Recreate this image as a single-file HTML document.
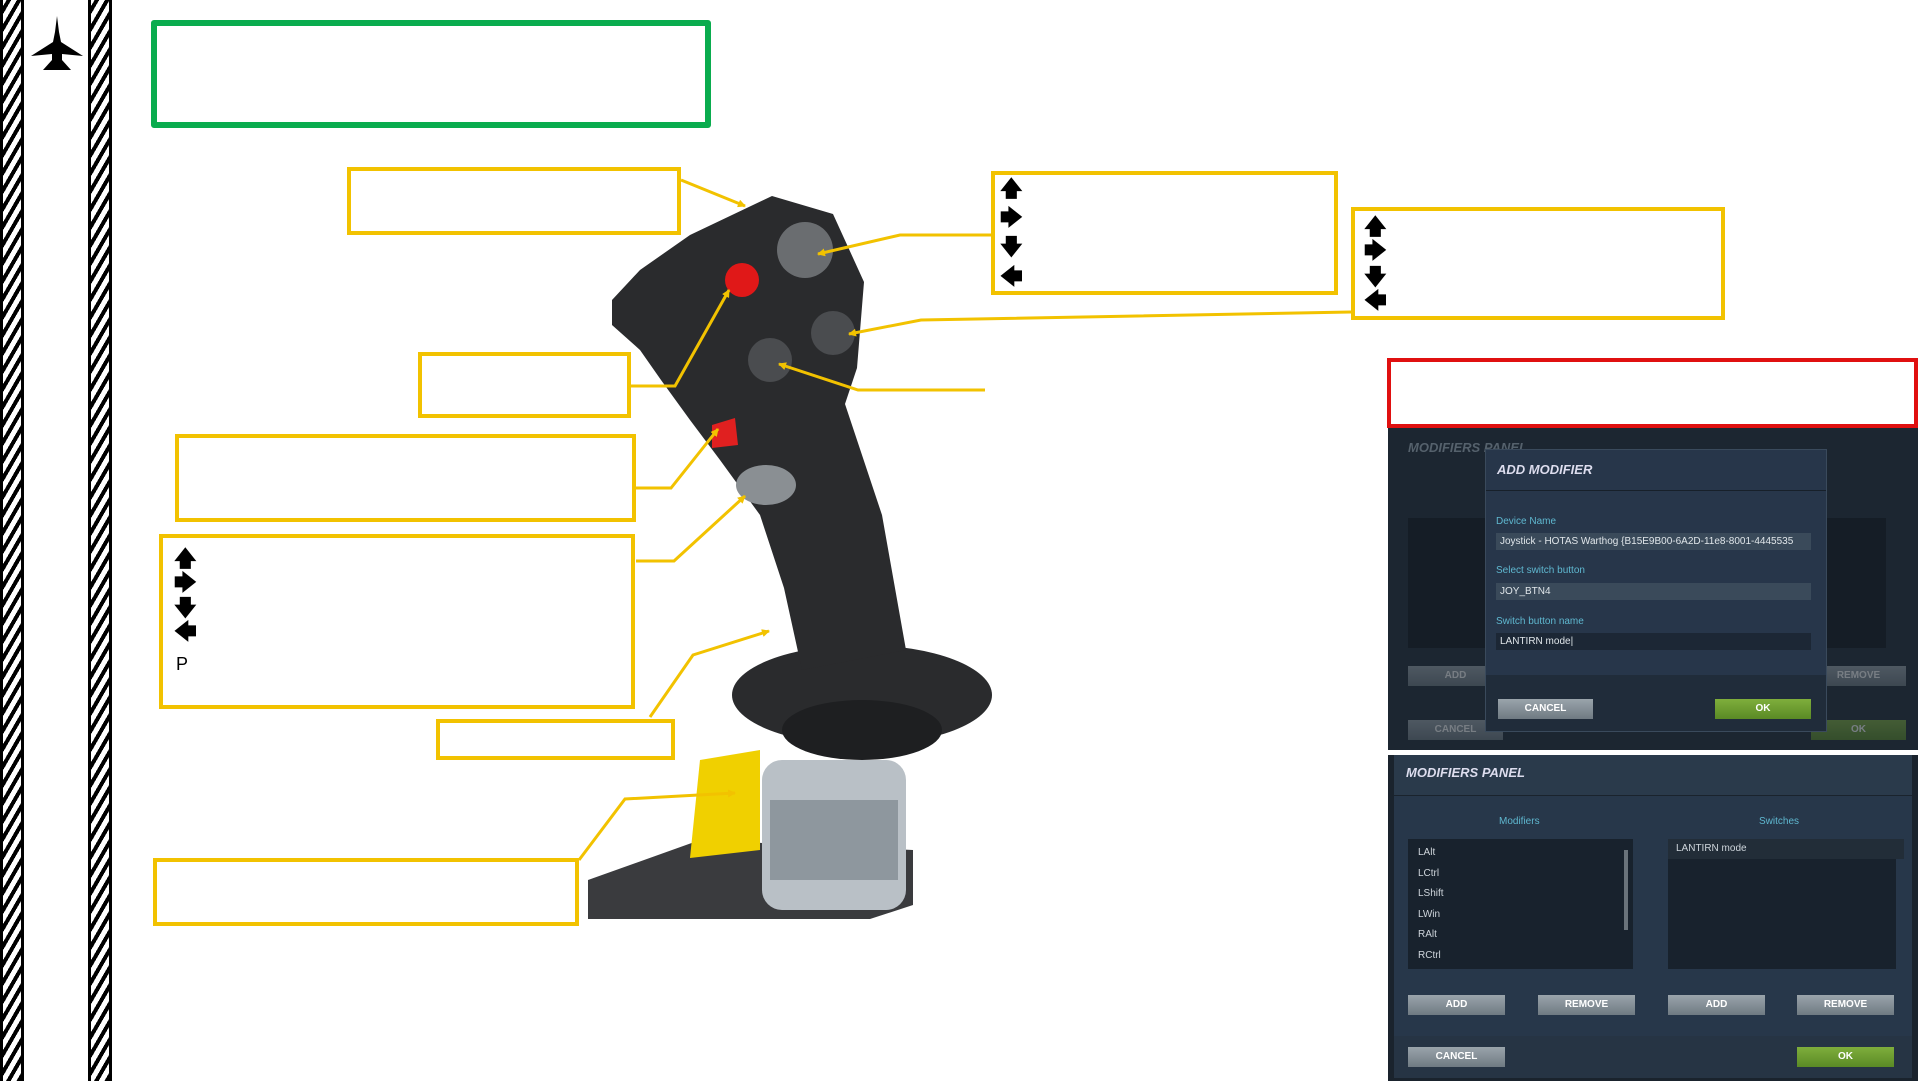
<!DOCTYPE html>
<html><head><meta charset="utf-8"><style>
body{margin:0;width:1921px;height:1081px;overflow:hidden;background:#fff;font-family:"Liberation Sans",sans-serif;position:relative}
.a{position:absolute}
.y{position:absolute;border:4px solid #f2c200;box-sizing:border-box;background:#fff}
.stripe{position:absolute;top:0;height:1081px;width:24px;background:repeating-linear-gradient(-60deg,#000 0 4px,#fff 4px 9px);border-left:3px solid #000;border-right:3px solid #000;box-sizing:border-box}
.ar{position:absolute;font-size:22px;font-weight:bold;line-height:1}
.pn{position:absolute;background:#243140;color:#cfd6dc;font-size:10px}
.btn{position:absolute;background:linear-gradient(#9aa4ab,#6f7a82);color:#fff;font-weight:bold;font-size:10px;text-align:center;line-height:20px;height:20px}
.ok{background:linear-gradient(#7fae3c,#5a8a25)}
.lbl{position:absolute;color:#5fb8d0;font-size:10px}
.fld{position:absolute;background:#3a4a5a;color:#e0e6ea;font-size:10px;padding-left:4px;line-height:17px;height:17px;box-sizing:border-box}
</style></head><body>
<div class="stripe" style="left:0"></div>
<div class="stripe" style="left:88px"></div>
<svg class="a" style="left:26px;top:14px" width="62" height="62" viewBox="0 0 62 62"><path d="M31 2 L33 18 L35 28 L57 42 L36 40 L36 46 L45 56 L17 56 L26 46 L26 40 L5 42 L27 28 L29 18Z" fill="#000"/></svg>
<div class="a" style="left:151px;top:20px;width:560px;height:108px;border:6px solid #0aac4e;box-sizing:border-box;border-radius:3px"></div>

<svg class="a" style="left:0;top:0" width="1921" height="1081">
<defs><marker id="m" markerWidth="8" markerHeight="8" refX="7" refY="4" orient="auto" markerUnits="userSpaceOnUse"><path d="M0 0 L8 4 L0 8Z" fill="#f2c200"/></marker></defs>
<g fill="#2a2b2d">
<path d="M588 880 L700 840 L913 850 L913 905 L870 919 L588 919 Z" fill="#3a3b3e"/>
<path d="M700 760 L760 750 L760 850 L690 858Z" fill="#f0d000"/>
<rect x="762" y="760" width="144" height="150" rx="20" fill="#b9c0c6"/>
<rect x="770" y="800" width="128" height="80" fill="#8e979e"/>
<ellipse cx="862" cy="695" rx="130" ry="50" fill="#2a2b2d"/>
<ellipse cx="862" cy="730" rx="80" ry="30" fill="#1e1f21"/>
<path d="M612 300 L640 270 L690 235 L772 196 L833 214 L864 282 L857 368 L845 404 L882 515 L906 650 L802 670 L784 588 L760 515 L720 460 L690 420 L661 380 L640 350 L612 325Z"/>
</g>
<circle cx="805" cy="250" r="28" fill="#6a6d70"/>
<circle cx="742" cy="280" r="17" fill="#e01818"/>
<circle cx="833" cy="333" r="22" fill="#4a4c4f"/>
<circle cx="770" cy="360" r="22" fill="#4a4c4f"/>
<path d="M712 425 L735 418 L738 445 L712 448Z" fill="#e02020"/>
<ellipse cx="766" cy="485" rx="30" ry="20" fill="#8a8f93"/>
<g stroke="#f2c200" stroke-width="3" fill="none" marker-end="url(#m)">
<polyline points="681,180 745,206"/>
<polyline points="991,235 900,235 818,254"/>
<polyline points="1351,312 921,320 849,334"/>
<polyline points="985,390 858,390 779,364"/>
<polyline points="631,386 675,386 729,290"/>
<polyline points="636,488 671,488 718,429"/>
<polyline points="636,561 674,561 745,496"/>
<polyline points="650,717 693,655 769,631"/>
<polyline points="579,860 625,799 735,793"/>
</g>
</svg>

<div class="y" style="left:347px;top:167px;width:334px;height:68px"></div>
<div class="y" style="left:991px;top:171px;width:347px;height:124px"></div>
<div class="y" style="left:1351px;top:207px;width:374px;height:113px"></div>
<div class="y" style="left:418px;top:352px;width:213px;height:66px"></div>
<div class="y" style="left:175px;top:434px;width:461px;height:88px"></div>
<div class="y" style="left:159px;top:534px;width:476px;height:175px"></div>
<div class="y" style="left:436px;top:719px;width:239px;height:41px"></div>
<div class="y" style="left:153px;top:858px;width:426px;height:68px"></div>

<div class="ar" style="left:1000px;top:178px">🡅</div>
<div class="ar" style="left:1000px;top:207px">🡆</div>
<div class="ar" style="left:1000px;top:236px">🡇</div>
<div class="ar" style="left:1000px;top:266px">🡄</div>
<div class="ar" style="left:1364px;top:216px">🡅</div>
<div class="ar" style="left:1364px;top:240px">🡆</div>
<div class="ar" style="left:1364px;top:266px">🡇</div>
<div class="ar" style="left:1364px;top:290px">🡄</div>
<div class="ar" style="left:174px;top:548px">🡅</div>
<div class="ar" style="left:174px;top:572px">🡆</div>
<div class="ar" style="left:174px;top:597px">🡇</div>
<div class="ar" style="left:174px;top:621px">🡄</div>
<div class="a" style="left:176px;top:654px;font-size:18px">P</div>

<div class="a" style="left:1387px;top:358px;width:531px;height:70px;border:4px solid #e01010;box-sizing:border-box"></div>
<div class="pn" style="left:1388px;top:428px;width:530px;height:322px;background:#1c2631">
 <div class="a" style="left:20px;top:12px;font-size:13px;font-weight:bold;font-style:italic;color:#55616c">MODIFIERS PANEL</div>
 <div class="a" style="left:20px;top:90px;width:478px;height:130px;background:#151d26"></div>
 <div class="btn" style="left:20px;top:238px;width:95px;opacity:.4">ADD</div>
 <div class="btn" style="left:423px;top:238px;width:95px;opacity:.4">REMOVE</div>
 <div class="btn" style="left:20px;top:292px;width:95px;opacity:.4">CANCEL</div>
 <div class="btn ok" style="left:423px;top:292px;width:95px;opacity:.4">OK</div>
</div>
<div class="pn" style="left:1485px;top:449px;width:340px;height:281px;background:#27364a;border:1px solid #3a4a5c">
 <div class="a" style="left:11px;top:12px;font-size:13px;font-weight:bold;font-style:italic;color:#dde">ADD MODIFIER</div>
 <div class="a" style="left:0;top:40px;width:340px;height:1px;background:#17202a"></div>
 <div class="lbl" style="left:10px;top:66px">Device Name</div>
 <div class="fld" style="left:10px;top:83px;width:315px">Joystick - HOTAS Warthog {B15E9B00-6A2D-11e8-8001-4445535</div>
 <div class="lbl" style="left:10px;top:115px">Select switch button</div>
 <div class="fld" style="left:10px;top:133px;width:315px">JOY_BTN4</div>
 <div class="lbl" style="left:10px;top:166px">Switch button name</div>
 <div class="fld" style="left:10px;top:183px;width:315px;background:#1c2735">LANTIRN mode|</div>
 <div class="a" style="left:0;top:225px;width:340px;height:56px;background:#202c3a"></div>
 <div class="btn" style="left:12px;top:249px;width:95px">CANCEL</div>
 <div class="btn ok" style="left:229px;top:249px;width:96px">OK</div>
</div>
<div class="pn" style="left:1388px;top:755px;width:530px;height:326px;background:#1a232d">
 <div class="a" style="left:6px;top:0;width:518px;height:40px;background:#2a3a4b"></div>
 <div class="a" style="left:18px;top:10px;font-size:13px;font-weight:bold;font-style:italic;color:#dde">MODIFIERS PANEL</div>
 <div class="a" style="left:6px;top:41px;width:518px;height:240px;background:#27374a"></div>
 <div class="lbl" style="left:111px;top:61px">Modifiers</div>
 <div class="lbl" style="left:371px;top:61px">Switches</div>
 <div class="a" style="left:20px;top:84px;width:225px;height:130px;background:#18222d;font-size:10px;line-height:20.5px;padding:4px 0 0 10px;box-sizing:border-box">LAlt<br>LCtrl<br>LShift<br>LWin<br>RAlt<br>RCtrl</div>
 <div class="a" style="left:236px;top:95px;width:4px;height:80px;background:#6a737b"></div>
 <div class="a" style="left:280px;top:84px;width:228px;height:130px;background:#18222d"></div>
 <div class="a" style="left:280px;top:84px;width:228px;height:20px;background:#222d38;font-size:10px;line-height:20px;padding-left:8px">LANTIRN mode</div>
 <div class="btn" style="left:20px;top:240px;width:97px">ADD</div>
 <div class="btn" style="left:150px;top:240px;width:97px">REMOVE</div>
 <div class="btn" style="left:280px;top:240px;width:97px">ADD</div>
 <div class="btn" style="left:409px;top:240px;width:97px">REMOVE</div>
 <div class="a" style="left:6px;top:281px;width:518px;height:42px;background:#263444"></div>
 <div class="btn" style="left:20px;top:292px;width:97px">CANCEL</div>
 <div class="btn ok" style="left:409px;top:292px;width:97px">OK</div>
</div>
</body></html>
